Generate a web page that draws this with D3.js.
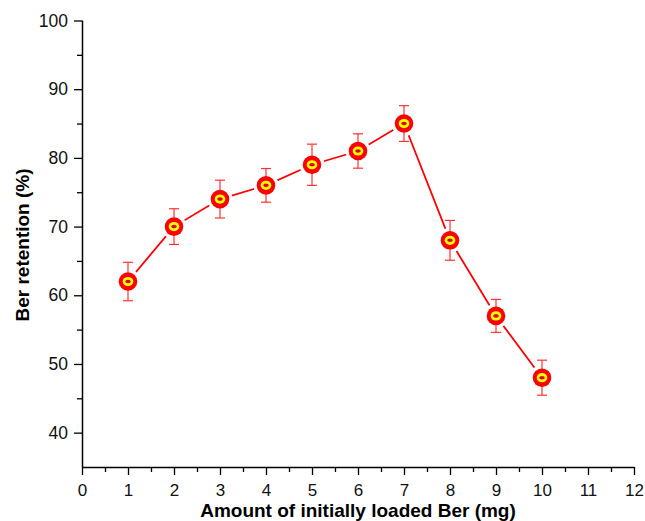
<!DOCTYPE html>
<html>
<head>
<meta charset="utf-8">
<script src="https://cdn.jsdelivr.net/npm/d3@7"></script>
<style>
  body { margin: 0; background: #fff; }
  text { font-family: "Liberation Sans", Arial, sans-serif; }
</style>
</head>
<body>
<svg id="chart" width="645" height="521"></svg>
<script>
// data
var loaded = [1, 2, 3, 4, 5, 6, 7, 8, 9, 10]
var retention = [62, 70, 74, 76, 79, 81, 85, 68, 57, 48]
var errors = [2.8, 2.6, 2.75, 2.45, 3.0, 2.5, 2.6, 2.9, 2.4, 2.55]
var xTicks = [0, 1, 2, 3, 4, 5, 6, 7, 8, 9, 10, 11, 12]
var yTicks = [40, 50, 60, 70, 80, 90, 100]

var W = 645, H = 521
var margin = {top: 20.5, right: 11, bottom: 54, left: 82}

var svg = d3.select("#chart")

var x = d3.scaleLinear().domain([0, 12]).range([margin.left, W - margin.right])
var y = d3.scaleLinear().domain([35, 100]).range([H - margin.bottom, margin.top])

var ink = "#000"

// minor ticks first, then major axis on top
var xMinor = d3.range(0.5, 12, 1)
var yMinor = d3.range(45, 100, 10)

svg.append("g")
  .attr("transform", "translate(0," + y(35) + ")")
  .call(d3.axisBottom(x).tickValues(xMinor).tickSize(5).tickFormat(""))
  .call(g => g.select(".domain").remove())
  .selectAll("line").attr("stroke", ink).attr("stroke-width", 1.3)

svg.append("g")
  .attr("transform", "translate(" + x(0) + ",0)")
  .call(d3.axisLeft(y).tickValues(yMinor).tickSize(5).tickFormat(""))
  .call(g => g.select(".domain").remove())
  .selectAll("line").attr("stroke", ink).attr("stroke-width", 1.3)

var xAxis = svg.append("g")
  .attr("transform", "translate(0," + y(35) + ")")
  .call(d3.axisBottom(x).tickValues(xTicks).tickSize(8).tickSizeOuter(0).tickPadding(9).tickFormat(d3.format("d")))
xAxis.select(".domain").attr("stroke", ink).attr("stroke-width", 1.5)
xAxis.selectAll(".tick line").attr("stroke", ink).attr("stroke-width", 1.3)
xAxis.selectAll("text").attr("font-size", 17).attr("fill", "#111")
  .attr("font-family", "Liberation Sans, Arial, sans-serif")

var yAxis = svg.append("g")
  .attr("transform", "translate(" + x(0) + ",0)")
  .call(d3.axisLeft(y).tickValues(yTicks).tickSize(8).tickSizeOuter(0).tickPadding(6).tickFormat(d3.format("d")))
yAxis.select(".domain").attr("stroke", ink).attr("stroke-width", 1.5)
  .attr("d", "M0.5," + y(35) + "V" + y(100))
yAxis.selectAll(".tick line").attr("stroke", ink).attr("stroke-width", 1.3)
yAxis.selectAll("text").attr("font-size", 17.5).attr("fill", "#111")
  .attr("font-family", "Liberation Sans, Arial, sans-serif")

// axis titles
svg.append("text")
  .attr("x", (x(0) + x(12)) / 2)
  .attr("y", 517)
  .attr("text-anchor", "middle")
  .attr("font-size", 19)
  .attr("font-weight", "bold")
  .text("Amount of initially loaded Ber (mg)")

svg.append("text")
  .attr("transform", "translate(28.5," + 245 + ") rotate(-90)")
  .attr("text-anchor", "middle")
  .attr("font-size", 19)
  .attr("font-weight", "bold")
  .text("Ber retention (%)")

var pts = loaded.map((d, i) => ({x: d, y: retention[i], e: errors[i]}))

// connecting line
svg.append("path")
  .datum(pts)
  .attr("fill", "none")
  .attr("stroke", "#ff0000")
  .attr("stroke-width", 1.8)
  .attr("d", d3.line().x(d => x(d.x)).y(d => y(d.y)))

// white gap around each marker
svg.append("g").selectAll("circle").data(pts).join("circle")
  .attr("cx", d => x(d.x)).attr("cy", d => y(d.y))
  .attr("r", 12.5).attr("fill", "#fff")

// error bars
var eb = svg.append("g").attr("stroke", "#ff3333").attr("stroke-width", 1.2)
eb.selectAll(".v").data(pts).join("line").attr("class", "v")
  .attr("x1", d => x(d.x)).attr("x2", d => x(d.x))
  .attr("y1", d => y(d.y + d.e)).attr("y2", d => y(d.y - d.e))
eb.selectAll(".t").data(pts).join("line").attr("class", "t")
  .attr("x1", d => x(d.x) - 5).attr("x2", d => x(d.x) + 5)
  .attr("y1", d => y(d.y + d.e)).attr("y2", d => y(d.y + d.e))
eb.selectAll(".b").data(pts).join("line").attr("class", "b")
  .attr("x1", d => x(d.x) - 5).attr("x2", d => x(d.x) + 5)
  .attr("y1", d => y(d.y - d.e)).attr("y2", d => y(d.y - d.e))

// markers: red disc, yellow ring, red centre
var mk = svg.append("g").selectAll("g").data(pts).join("g")
  .attr("transform", d => "translate(" + x(d.x) + "," + y(d.y) + ")")
mk.append("circle").attr("r", 9.3).attr("fill", "#ff0000")
mk.append("ellipse").attr("rx", 5.3).attr("ry", 4.6).attr("fill", "#ffff00")
mk.append("ellipse").attr("rx", 2.8).attr("ry", 1.8).attr("fill", "#dd0000")
</script>
</body>
</html>
